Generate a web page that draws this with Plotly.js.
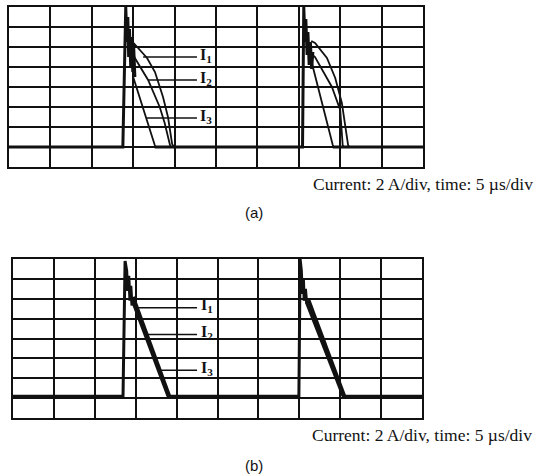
<!DOCTYPE html>
<html>
<head>
<meta charset="utf-8">
<script src="https://cdn.plot.ly/plotly-3.0.1.min.js"></script>
<style>html,body{margin:0;padding:0;background:#fff;}#chart{width:535px;height:475px;}</style>
</head>
<body>
<div id="chart"></div>
<script>
// ---- Panel (a): time in µs, current in A (5 µs/div, 2 A/div) ----
// baseline + rise + ringing shared by all three currents
const aCommonT = [0, 13.75, 14.1, 14.25, 14.35, 14.45, 14.55, 14.7, 14.8, 14.95, 15.05, 15.2, null, 17.6, 35.45, 35.6, 35.75, 35.85, 36.0, 36.1, 36.25, 36.4, 36.55, 36.7, null, 39.1, 50];
const aCommonI = [0, 0, 14.0, 10.5, 13.0, 9.0, 11.8, 8.0, 11.0, 7.5, 10.2, 7.0, null, 0, 0, 14.0, 10.5, 12.8, 9.2, 11.5, 8.2, 10.5, 7.8, 9.5, null, 0, 0];
const aI1T = [15.05, 15.46, 16.67, 17.63, 18.6, 19.2, 19.7, 19.9, null, 36.5, 36.96, 38.4, 39.4, 40.2, 40.95, 41.1];
const aI1I = [10.4, 10.0, 8.9, 7.5, 5.0, 3.0, 0.3, 0, null, 10.6, 10.4, 8.9, 6.9, 4.4, 0.2, 0];
const aI2T = [15.0, 15.2, 16.8, 18.2, 18.8, 19.4, 19.5, null, 36.5, 36.96, 39.0, 40.0, 40.3, 40.4];
const aI2I = [9.3, 8.9, 6.7, 4.0, 2.4, 0.2, 0, null, 9.3, 9.0, 6.0, 3.7, 0.2, 0];
const aI3T = [14.95, 15.0, 17.6, 17.7, null, 36.6, 36.7, 39.1, 39.2];
const aI3I = [7.5, 7.0, 0.2, 0, null, 8.4, 8.0, 0.2, 0];

// ---- Panel (b) ----
const bCommonT = [0, 13.45, 13.7, 13.9, 14.0, 14.15, 14.3, 14.4, 14.55, null, 18.8, 34.95, 35.1, 35.25, 35.35, 35.5, 35.6, 35.75, 35.9, null, 40.2, 50];
const bCommonI = [0.2, 0.2, 13.8, 12.8, 10.8, 12.3, 9.8, 11.3, 9.3, null, 0.2, 0.2, 14.0, 12.8, 10.5, 12.0, 9.8, 11.0, 9.5, null, 0.2, 0.2];
const bI1T = [14.75, 19.2, null, 36.15, 40.6];
const bI1I = [10.2, 0.2, null, 10.0, 0.2];
const bI2T = [14.65, 19.05, null, 36.0, 40.45];
const bI2I = [10.0, 0.2, null, 9.8, 0.2];
const bI3T = [14.55, 18.9, null, 35.85, 40.3];
const bI3I = [9.8, 0.2, null, 9.6, 0.2];

const seriesNames = ['I<sub>1</sub>', 'I<sub>2</sub>', 'I<sub>3</sub>'];
const caption = 'Current: 2 A/div, time: 5 \u00b5s/div';
const panelLabels = ['(a)', '(b)'];

function tr(x, y, xa, ya, w, name) {
  return {x: x, y: y, xaxis: xa, yaxis: ya, type: 'scatter', mode: 'lines',
    line: {color: '#111', width: w}, connectgaps: false, name: name, showlegend: false, hoverinfo: 'skip'};
}

const data = [
  tr(aCommonT, aCommonI, 'x', 'y', 3, 'common'),
  tr(aI1T, aI1I, 'x', 'y', 1.8, seriesNames[0]),
  tr(aI2T, aI2I, 'x', 'y', 1.8, seriesNames[1]),
  tr(aI3T, aI3I, 'x', 'y', 1.8, seriesNames[2]),
  tr(bCommonT, bCommonI, 'x2', 'y2', 3, 'common'),
  tr(bI1T, bI1I, 'x2', 'y2', 2.4, seriesNames[0]),
  tr(bI2T, bI2I, 'x2', 'y2', 2.4, seriesNames[1]),
  tr(bI3T, bI3I, 'x2', 'y2', 2.4, seriesNames[2])
];

function xax(dom) {
  return {domain: dom, range: [0, 50], dtick: 5, tick0: 0, showticklabels: false, ticks: '',
    showgrid: true, gridcolor: '#111', gridwidth: 1.5, zeroline: false,
    showline: true, mirror: true, linecolor: '#111', linewidth: 2, fixedrange: true};
}
function yax(dom, anchor) {
  return {domain: dom, range: [-2, 14], dtick: 2, tick0: 0, showticklabels: false, ticks: '',
    showgrid: true, gridcolor: '#111', gridwidth: 1.5, zeroline: false, anchor: anchor,
    showline: true, mirror: true, linecolor: '#111', linewidth: 2, fixedrange: true};
}

const W = 535, H = 475;
const leader = (xref, yref, x0, x1, y) => ({type: 'line', xref: xref, yref: yref, x0: x0, x1: x1, y0: y, y1: y,
  line: {color: '#111', width: 1.5}});
const lab = (xref, yref, x, y, t) => ({xref: xref, yref: yref, x: x, y: y, text: '<b>' + t + '</b>', showarrow: false,
  xanchor: 'left', yanchor: 'middle', font: {family: 'Liberation Serif', size: 16, color: '#111'}});

const layout = {
  width: W, height: H,
  margin: {l: 0, r: 0, t: 0, b: 0},
  paper_bgcolor: '#fff', plot_bgcolor: '#fff',
  showlegend: false,
  xaxis: Object.assign(xax([9 / W, 423 / W]), {anchor: 'y'}),
  yaxis: yax([1 - 167 / H, 1 - 7 / H], 'x'),
  xaxis2: Object.assign(xax([13 / W, 422 / W]), {anchor: 'y2'}),
  yaxis2: yax([1 - 418 / H, 1 - 259 / H], 'x2'),
  shapes: [
    leader('x', 'y', 16.2, 22.7, 9.0),
    leader('x', 'y', 16.8, 22.7, 6.7),
    leader('x', 'y', 16.55, 22.7, 2.9),
    leader('x2', 'y2', 15.15, 22.5, 9.1),
    leader('x2', 'y2', 16.4, 22.5, 6.4),
    leader('x2', 'y2', 18.1, 22.5, 2.8)
  ],
  annotations: [
    lab('x', 'y', 22.8, 9.2, seriesNames[0]),
    lab('x', 'y', 22.8, 6.9, seriesNames[1]),
    lab('x', 'y', 22.8, 3.1, seriesNames[2]),
    lab('x2', 'y2', 22.7, 9.3, seriesNames[0]),
    lab('x2', 'y2', 22.7, 6.6, seriesNames[1]),
    lab('x2', 'y2', 22.7, 3.0, seriesNames[2]),
    {xref: 'paper', yref: 'paper', x: 423 / W, y: 1 - 184 / H, text: caption, showarrow: false,
      xanchor: 'center', yanchor: 'middle', font: {family: 'Liberation Serif', size: 17.5, color: '#111'}},
    {xref: 'paper', yref: 'paper', x: 422 / W, y: 1 - 435 / H, text: caption, showarrow: false,
      xanchor: 'center', yanchor: 'middle', font: {family: 'Liberation Serif', size: 17.5, color: '#111'}},
    {xref: 'paper', yref: 'paper', x: 254 / W, y: 1 - 212 / H, text: panelLabels[0], showarrow: false,
      xanchor: 'center', yanchor: 'middle', font: {family: 'Liberation Sans', size: 15, color: '#111'}},
    {xref: 'paper', yref: 'paper', x: 254 / W, y: 1 - 465 / H, text: panelLabels[1], showarrow: false,
      xanchor: 'center', yanchor: 'middle', font: {family: 'Liberation Sans', size: 15, color: '#111'}}
  ]
};

Plotly.newPlot('chart', data, layout, {displayModeBar: false});
</script>
</body>
</html>
